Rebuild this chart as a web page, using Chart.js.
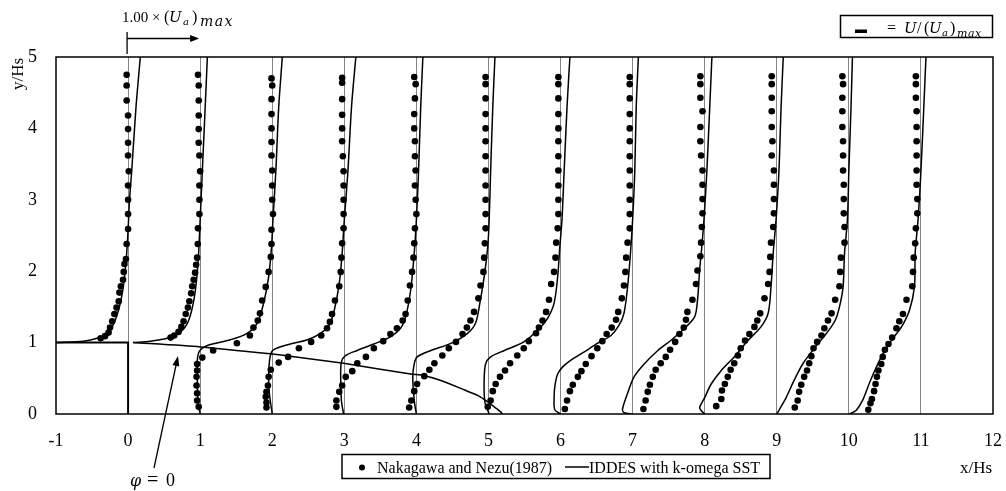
<!DOCTYPE html>
<html><head><meta charset="utf-8">
<script src="https://cdn.jsdelivr.net/npm/chart.js@4.4.1/dist/chart.umd.min.js"></script>
<style>html,body{margin:0;padding:0;background:#fff;}canvas{display:block;}</style>
</head><body>
<canvas id="c" width="1006" height="491"></canvas>
<script>
// axis ranges
const xRange = [-1, 12];
const yRange = [0, 5];
// zero-velocity reference lines of each station profile
const refLines = [0, 1, 2, 3, 4, 5, 6, 7, 8, 9, 10, 11];

// Nakagawa and Nezu (1987) measured profiles, [x/Hs, y/Hs] as plotted
const nn_m1 = [[-0.02,4.75],[-0.02,4.60],[-0.02,4.39],[0,4.18],[0,3.99],[0,3.80],[0,3.62],[0.01,3.40],[0,3.20],[0,3.0],[0,2.80],[0,2.59],[-0.02,2.38],[-0.03,2.17],[-0.05,2.10],[-0.06,1.99],[-0.07,1.88],[-0.10,1.79],[-0.12,1.70],[-0.13,1.58],[-0.16,1.49],[-0.19,1.40],[-0.22,1.30],[-0.25,1.21],[-0.27,1.14],[-0.32,1.09],[-0.38,1.06]];
const nn_0 = [[0.97,4.75],[0.98,4.60],[0.98,4.39],[0.98,4.18],[0.98,3.99],[0.98,3.80],[0.99,3.62],[1.0,3.40],[0.99,3.20],[0.99,3.0],[0.99,2.80],[0.97,2.60],[0.967,2.38],[0.958,2.19],[0.944,2.09],[0.93,1.98],[0.91,1.88],[0.89,1.79],[0.875,1.69],[0.85,1.58],[0.83,1.49],[0.80,1.40],[0.77,1.30],[0.74,1.22],[0.70,1.15],[0.64,1.10],[0.59,1.07]];
const nn_1 = [[1.99,4.70],[2.0,4.60],[1.99,4.41],[1.99,4.20],[1.99,4.0],[1.99,3.81],[1.99,3.62],[2.0,3.41],[2.0,3.20],[2.0,3.0],[2.01,2.80],[1.99,2.58],[1.99,2.38],[1.98,2.20],[1.95,1.99],[1.91,1.78],[1.86,1.59],[1.83,1.41],[1.80,1.31],[1.74,1.21],[1.69,1.10],[1.51,0.99],[1.18,0.89],[1.03,0.79],[0.958,0.70],[0.958,0.61],[0.95,0.52],[0.95,0.40],[0.958,0.29],[0.958,0.19],[0.98,0.10]];
const nn_2 = [[2.97,4.71],[2.97,4.64],[2.97,4.41],[2.97,4.19],[2.97,4.0],[2.97,3.82],[2.98,3.61],[2.99,3.40],[2.99,3.20],[2.99,3.0],[2.99,2.80],[2.99,2.60],[2.97,2.39],[2.96,2.19],[2.95,1.99],[2.93,1.79],[2.87,1.59],[2.83,1.40],[2.80,1.29],[2.76,1.20],[2.68,1.10],[2.54,1.01],[2.37,0.92],[2.22,0.80],[2.09,0.72],[1.98,0.62],[1.95,0.52],[1.94,0.40],[1.92,0.31],[1.91,0.24],[1.92,0.16],[1.92,0.09]];
const nn_3 = [[3.97,4.72],[3.99,4.62],[3.98,4.42],[3.97,4.20],[3.97,4.0],[3.98,3.82],[3.98,3.61],[3.99,3.41],[3.98,3.20],[3.99,3.0],[4.0,2.80],[3.98,2.60],[3.97,2.39],[3.96,2.19],[3.94,1.99],[3.91,1.80],[3.88,1.59],[3.85,1.40],[3.81,1.31],[3.73,1.20],[3.64,1.12],[3.54,1.02],[3.41,0.92],[3.30,0.80],[3.18,0.71],[3.11,0.60],[3.02,0.52],[2.97,0.40],[2.93,0.31],[2.89,0.19],[2.89,0.10]];
const nn_4 = [[4.96,4.72],[4.96,4.62],[4.96,4.42],[4.96,4.20],[4.96,4.0],[4.96,3.82],[4.96,3.61],[4.96,3.41],[4.96,3.20],[4.96,3.0],[4.96,2.80],[4.96,2.60],[4.95,2.39],[4.94,2.19],[4.93,1.99],[4.89,1.80],[4.86,1.62],[4.80,1.43],[4.75,1.31],[4.70,1.21],[4.64,1.12],[4.55,1.01],[4.45,0.92],[4.36,0.82],[4.25,0.71],[4.18,0.62],[4.11,0.53],[4.01,0.42],[3.97,0.32],[3.93,0.19],[3.90,0.09]];
const nn_5 = [[5.97,4.72],[5.97,4.62],[5.97,4.42],[5.97,4.20],[5.97,4.0],[5.97,3.82],[5.97,3.61],[5.97,3.41],[5.97,3.20],[5.97,3.0],[5.97,2.80],[5.96,2.60],[5.94,2.40],[5.93,2.19],[5.91,1.99],[5.87,1.82],[5.84,1.60],[5.80,1.43],[5.75,1.31],[5.70,1.21],[5.66,1.13],[5.56,1.02],[5.49,0.92],[5.40,0.82],[5.30,0.71],[5.23,0.61],[5.16,0.52],[5.10,0.42],[5.06,0.32],[5.03,0.19],[4.99,0.10]];
const nn_6 = [[6.96,4.72],[6.96,4.62],[6.96,4.42],[6.96,4.20],[6.96,4.0],[6.96,3.82],[6.96,3.61],[6.96,3.41],[6.96,3.20],[6.96,3.0],[6.96,2.80],[6.96,2.60],[6.93,2.40],[6.91,2.19],[6.90,1.99],[6.88,1.80],[6.85,1.62],[6.80,1.43],[6.77,1.32],[6.71,1.21],[6.64,1.12],[6.58,1.02],[6.51,0.92],[6.43,0.81],[6.35,0.70],[6.29,0.60],[6.24,0.52],[6.17,0.41],[6.13,0.32],[6.09,0.19],[6.06,0.07]];
const nn_7 = [[7.94,4.73],[7.94,4.62],[7.94,4.43],[7.97,4.24],[7.94,4.02],[7.94,3.82],[7.95,3.62],[7.97,3.41],[7.97,3.21],[7.97,3.01],[7.97,2.81],[7.96,2.62],[7.95,2.40],[7.94,2.21],[7.90,2.01],[7.88,1.82],[7.83,1.60],[7.76,1.43],[7.74,1.32],[7.71,1.21],[7.65,1.12],[7.59,1.01],[7.52,0.90],[7.46,0.80],[7.39,0.71],[7.32,0.62],[7.28,0.52],[7.24,0.41],[7.21,0.31],[7.18,0.19],[7.15,0.07]];
const nn_8 = [[8.93,4.73],[8.93,4.62],[8.93,4.43],[8.93,4.24],[8.93,4.02],[8.94,3.82],[8.93,3.62],[8.96,3.41],[8.96,3.21],[8.96,3.01],[8.96,2.81],[8.95,2.62],[8.92,2.40],[8.91,2.20],[8.90,1.99],[8.88,1.82],[8.83,1.62],[8.77,1.41],[8.73,1.31],[8.69,1.22],[8.62,1.12],[8.56,1.03],[8.50,0.92],[8.46,0.82],[8.41,0.71],[8.36,0.62],[8.32,0.52],[8.28,0.42],[8.24,0.33],[8.23,0.21],[8.16,0.11]];
const nn_9 = [[9.91,4.73],[9.92,4.62],[9.91,4.43],[9.91,4.24],[9.91,4.02],[9.92,3.82],[9.92,3.62],[9.92,3.41],[9.93,3.21],[9.93,3.01],[9.93,2.81],[9.94,2.62],[9.94,2.40],[9.89,2.19],[9.88,1.99],[9.87,1.79],[9.81,1.60],[9.76,1.41],[9.71,1.31],[9.66,1.20],[9.62,1.10],[9.56,1.01],[9.51,0.92],[9.48,0.81],[9.45,0.71],[9.42,0.61],[9.38,0.52],[9.34,0.41],[9.31,0.31],[9.29,0.19],[9.25,0.09]];
const nn_10 = [[10.93,4.73],[10.93,4.62],[10.93,4.43],[10.94,4.24],[10.94,4.02],[10.94,3.82],[10.94,3.62],[10.94,3.41],[10.94,3.21],[10.95,3.01],[10.95,2.81],[10.93,2.60],[10.92,2.39],[10.90,2.19],[10.89,1.99],[10.88,1.79],[10.80,1.60],[10.75,1.40],[10.70,1.30],[10.66,1.20],[10.60,1.07],[10.55,0.98],[10.50,0.90],[10.47,0.80],[10.45,0.70],[10.41,0.61],[10.39,0.52],[10.37,0.42],[10.35,0.32],[10.32,0.21],[10.30,0.15],[10.27,0.06]];

// IDDES with k-omega SST profiles, [x/Hs, y/Hs] as plotted
const sim_m1 = [[-1.0,1.0],[-0.62,1.02],[-0.43,1.06],[-0.29,1.13],[-0.18,1.31],[-0.09,1.64],[-0.03,2.11],[0.0,2.58],[0.02,3.0],[0.05,3.4],[0.11,4.3],[0.17,5.0]];
const sim_0 = [[0.07,1.0],[0.31,1.02],[0.54,1.06],[0.73,1.15],[0.84,1.31],[0.92,1.64],[0.97,2.11],[1.0,2.72],[1.03,3.4],[1.07,4.3],[1.10,5.0]];
const sim_1 = [[1.0,0.0],[0.97,0.19],[0.96,0.52],[0.96,0.75],[0.99,0.88],[1.10,0.96],[1.42,1.04],[1.65,1.13],[1.79,1.27],[1.88,1.55],[1.95,1.92],[1.99,2.34],[2.01,2.72],[2.05,3.4],[2.09,4.3],[2.14,5.0]];
const sim_2 = [[2.0,0.0],[1.96,0.29],[1.95,0.52],[1.97,0.80],[2.02,0.90],[2.25,0.98],[2.49,1.04],[2.67,1.13],[2.79,1.24],[2.86,1.45],[2.93,1.83],[2.97,2.25],[3.0,2.72],[3.05,3.4],[3.10,4.3],[3.16,5.0]];
const sim_3 = [[2.99,0.0],[2.96,0.19],[2.95,0.52],[2.96,0.73],[3.02,0.82],[3.18,0.89],[3.41,0.98],[3.64,1.08],[3.78,1.20],[3.85,1.36],[3.92,1.73],[3.97,2.25],[4.0,2.72],[4.03,3.4],[4.06,4.3],[4.09,5.0]];
const sim_4 = [[4.0,0.0],[3.97,0.19],[3.95,0.52],[3.97,0.70],[4.01,0.80],[4.20,0.89],[4.48,0.99],[4.71,1.13],[4.82,1.27],[4.88,1.55],[4.94,1.92],[4.99,2.34],[5.01,2.72],[5.03,3.4],[5.06,4.3],[5.09,5.0]];
const sim_5 = [[5.01,0.0],[4.95,0.17],[4.94,0.47],[4.96,0.70],[5.03,0.80],[5.22,0.89],[5.49,1.01],[5.70,1.19],[5.82,1.34],[5.91,1.55],[5.96,1.92],[5.99,2.34],[6.02,2.72],[6.05,3.4],[6.09,4.3],[6.13,5.0]];
const sim_6 = [[6.0,0.0],[5.92,0.06],[5.91,0.19],[5.92,0.38],[5.96,0.56],[6.03,0.66],[6.14,0.75],[6.33,0.87],[6.51,0.99],[6.70,1.10],[6.81,1.24],[6.88,1.41],[6.93,1.78],[6.97,2.25],[7.0,2.72],[7.03,3.4],[7.05,4.3],[7.08,5.0]];
const sim_7 = [[7.0,0.0],[6.88,0.02],[6.86,0.07],[6.93,0.29],[7.02,0.52],[7.16,0.70],[7.35,0.89],[7.53,1.03],[7.72,1.20],[7.86,1.36],[7.90,1.59],[7.93,2.02],[7.96,2.34],[7.99,2.72],[8.03,3.4],[8.07,4.3],[8.10,5.0]];
const sim_8 = [[8.0,0.0],[7.95,0.05],[7.93,0.09],[8.0,0.23],[8.09,0.42],[8.23,0.61],[8.41,0.80],[8.60,1.03],[8.78,1.22],[8.88,1.41],[8.92,1.78],[8.95,2.25],[8.99,2.72],[9.03,3.4],[9.06,4.3],[9.09,5.0]];
const sim_9 = [[9.0,0.0],[9.04,0.07],[9.13,0.23],[9.24,0.47],[9.36,0.70],[9.52,0.92],[9.69,1.13],[9.81,1.31],[9.87,1.50],[9.92,1.78],[9.94,2.25],[9.98,2.72],[10.0,3.4],[10.03,4.3],[10.05,5.0]];
const sim_10 = [[10.01,0.0],[10.10,0.05],[10.19,0.19],[10.30,0.47],[10.45,0.80],[10.59,1.03],[10.73,1.22],[10.84,1.45],[10.91,1.78],[10.92,2.25],[10.96,2.72],[11.0,3.4],[11.04,4.3],[11.07,5.0]];

// dividing streamline (phi = 0)
const phi0 = [[0.07,1.0],[1.0,0.94],[2.0,0.84],[2.25,0.81],[2.99,0.71],[3.92,0.56],[4.1,0.54],[4.34,0.47],[4.66,0.34],[4.85,0.26],[4.99,0.17],[5.08,0.10],[5.17,0.03],[5.19,0.0]];
// backward-facing step outline
const stepLine = [[-1,1],[0,1],[0,0]];

const nnProfiles = [nn_m1, nn_0, nn_1, nn_2, nn_3, nn_4, nn_5, nn_6, nn_7, nn_8, nn_9, nn_10];
const simProfiles = [sim_m1, sim_0, sim_1, sim_2, sim_3, sim_4, sim_5, sim_6, sim_7, sim_8, sim_9, sim_10];

const pts = a => a.map(p => ({x: p[0], y: p[1]}));
const datasets = [];
simProfiles.forEach(p => datasets.push({data: pts(p), showLine: true, borderColor: '#000', borderWidth: 1.5, pointRadius: 0, tension: 0.3, fill: false}));
datasets.push({data: pts(phi0), showLine: true, borderColor: '#000', borderWidth: 1.5, pointRadius: 0, tension: 0.2});
datasets.push({data: pts(stepLine), showLine: true, borderColor: '#000', borderWidth: 2, pointRadius: 0, tension: 0});
nnProfiles.forEach(p => datasets.push({data: pts(p), showLine: false, pointRadius: 3.3, pointBackgroundColor: '#000', pointBorderColor: '#000', pointBorderWidth: 0}));

const SERIF = "'Liberation Serif', 'Times New Roman', serif";
const MATH = "'DejaVu Serif', serif";

// draw text pieces at explicit positions: [text, x, y, size, italicMath, spacing]
function drawAt(ctx, pieces) {
  pieces.forEach(p => {
    ctx.font = p[4] ? ('italic ' + p[3] + 'px ' + MATH) : (p[3] + 'px ' + SERIF);
    ctx.letterSpacing = (p[5] || 0) + 'px';
    ctx.fillText(p[0], p[1], p[2]);
  });
  ctx.letterSpacing = '0px';
}
function arrowHead(ctx, x1, y1, x2, y2, len, w) {
  const a = Math.atan2(y2 - y1, x2 - x1);
  ctx.beginPath();
  ctx.moveTo(x2, y2);
  ctx.lineTo(x2 - len * Math.cos(a) + w * Math.sin(a), y2 - len * Math.sin(a) - w * Math.cos(a));
  ctx.lineTo(x2 - len * Math.cos(a) - w * Math.sin(a), y2 - len * Math.sin(a) + w * Math.cos(a));
  ctx.closePath();
  ctx.fill();
}

const decor = {
  id: 'decor',
  afterDatasetsDraw(chart) {
    const ctx = chart.ctx, a = chart.chartArea;
    ctx.save();
    ctx.strokeStyle = '#000'; ctx.lineWidth = 1.5;
    ctx.strokeRect(a.left, a.top, a.right - a.left, a.bottom - a.top);
    ctx.restore();
  },
  afterDraw(chart) {
    const ctx = chart.ctx, xs = chart.scales.x;
    ctx.save();
    ctx.fillStyle = '#000'; ctx.strokeStyle = '#000';
    ctx.textBaseline = 'alphabetic'; ctx.textAlign = 'left';
    // axis titles
    ctx.font = '17px ' + SERIF;
    ctx.save(); ctx.translate(23, 74); ctx.rotate(-Math.PI / 2);
    ctx.textAlign = 'center'; ctx.fillText('y/Hs', 0, 0); ctx.restore();
    ctx.textAlign = 'center'; ctx.fillText('x/Hs', 976, 473); ctx.textAlign = 'left';
    // scale annotation 1.00 x (Ua)max
    drawAt(ctx, [['1.00', 122, 22, 15], ['×', 152, 22, 15], ['(', 164, 22, 16], ['U', 169, 22, 15, true],
                 ['a', 183, 25, 10, true], [')', 192, 22, 16], ['max', 200, 26, 14, true, 1.5]]);
    const x0 = xs.getPixelForValue(0), x1 = xs.getPixelForValue(1);
    ctx.lineWidth = 1.3;
    ctx.beginPath(); ctx.moveTo(x0 - 1, 32); ctx.lineTo(x0 - 1, 54); ctx.stroke();
    ctx.beginPath(); ctx.moveTo(x0 - 1, 38.5); ctx.lineTo(x1 - 6, 38.5); ctx.stroke();
    arrowHead(ctx, x0, 38.5, x1 - 1, 38.5, 9, 3.5);
    // top-right legend
    ctx.lineWidth = 1.5;
    ctx.strokeRect(840.5, 15.5, 152, 22);
    ctx.fillRect(855, 29.5, 12, 3.5);
    drawAt(ctx, [['=', 887, 33, 16], ['U', 904, 33, 15, true], ['/', 917, 33, 16], ['(', 924, 33, 16], ['U', 929, 33, 15, true],
                 ['a', 942, 36, 10, true], [')', 950, 33, 16], ['max', 957, 37, 11, true, 0.5]]);
    // phi = 0 label and arrow
    drawAt(ctx, [['φ', 130, 486, 16, true], ['=', 147, 486, 20], ['0', 166, 486, 18]]);
    ctx.lineWidth = 1.3;
    ctx.beginPath(); ctx.moveTo(154, 468); ctx.lineTo(176.5, 363); ctx.stroke();
    arrowHead(ctx, 154, 468, 178, 356, 10, 3.5);
    // bottom legend
    ctx.lineWidth = 1.5;
    ctx.strokeRect(342, 454.5, 428, 24);
    ctx.beginPath(); ctx.arc(362, 467.5, 3, 0, Math.PI * 2); ctx.fill();
    ctx.font = '16px ' + SERIF;
    ctx.fillText('Nakagawa and Nezu(1987)', 377, 473);
    ctx.beginPath(); ctx.moveTo(565, 467); ctx.lineTo(589, 467); ctx.stroke();
    ctx.fillText('IDDES with k-omega SST', 589, 473);
    ctx.restore();
  }
};

new Chart(document.getElementById('c'), {
  type: 'scatter',
  data: {datasets},
  options: {
    responsive: false,
    animation: false,
    layout: {padding: {left: 0, right: 0, top: 57, bottom: 0}},
    plugins: {legend: {display: false}, tooltip: {enabled: false}},
    scales: {
      x: {
        type: 'linear', min: xRange[0], max: xRange[1],
        afterFit: s => { s.height = 77; s.paddingRight = 13; s.paddingLeft = 0; },
        border: {display: false},
        grid: {drawTicks: false, lineWidth: 1, color: c => refLines.includes(c.tick && c.tick.value) ? '#858585' : 'rgba(0,0,0,0)'},
        ticks: {stepSize: 1, padding: 16, color: '#000', font: {family: SERIF, size: 18}, maxRotation: 0}
      },
      y: {
        type: 'linear', min: yRange[0], max: yRange[1],
        afterFit: s => { s.width = 56; },
        border: {display: false},
        grid: {display: false, drawTicks: false},
        ticks: {stepSize: 1, padding: 19, color: '#000', font: {family: SERIF, size: 18}}
      }
    }
  },
  plugins: [decor]
});
</script>
</body></html>
